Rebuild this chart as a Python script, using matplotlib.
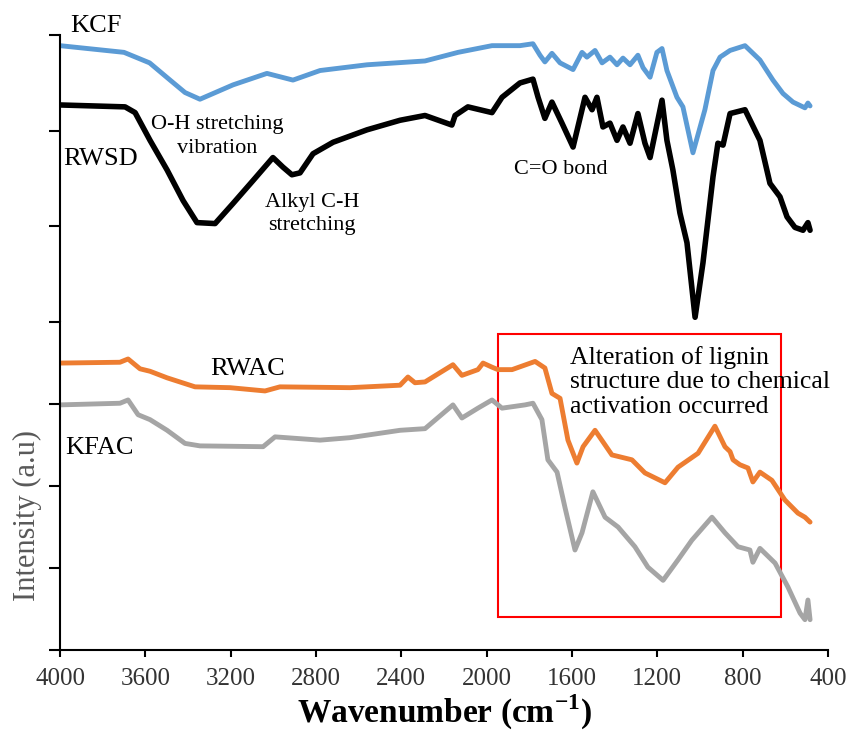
import numpy as np
import matplotlib
matplotlib.use("Agg")
import matplotlib.pyplot as plt
from matplotlib.patches import Rectangle

plt.rcParams['font.family'] = ['Liberation Serif', 'DejaVu Serif']
plt.rcParams['mathtext.fontset'] = 'custom'
plt.rcParams['mathtext.rm'] = 'Liberation Serif'
plt.rcParams['mathtext.bf'] = 'Liberation Serif:bold'

# ---- data ----
# upper panel: raw materials
kcf_wn = [4000, 3700, 3580, 3484, 3414, 3344, 3189, 3030, 2908, 2781, 2561, 2289, 2134,
          1975, 1844, 1783, 1750, 1727, 1694, 1656, 1595, 1553, 1530, 1492, 1459, 1422,
          1389, 1361, 1328, 1291, 1267, 1234, 1202, 1178, 1155, 1108, 1080, 1033, 977,
          939, 906, 859, 789, 719, 658, 611, 564, 508, 494, 484]
kcf_y = [2.89, 2.82, 2.71, 2.53, 2.40, 2.33, 2.48, 2.60, 2.53, 2.63, 2.69, 2.73, 2.82,
         2.89, 2.89, 2.91, 2.79, 2.72, 2.81, 2.71, 2.64, 2.82, 2.77, 2.84, 2.71, 2.77,
         2.69, 2.76, 2.69, 2.79, 2.66, 2.56, 2.82, 2.86, 2.63, 2.35, 2.25, 1.77, 2.22,
         2.63, 2.77, 2.84, 2.89, 2.74, 2.53, 2.39, 2.30, 2.24, 2.29, 2.26]

rwsd_wn = [4000, 3695, 3648, 3578, 3498, 3423, 3358, 3273, 3189, 3095, 3002, 2955, 2913,
           2875, 2814, 2720, 2561, 2406, 2289, 2163, 2148, 2088, 1975, 1928, 1844, 1783,
           1759, 1727, 1694, 1647, 1595, 1539, 1506, 1483, 1455, 1422, 1389, 1361, 1328,
           1291, 1258, 1234, 1178, 1155, 1127, 1094, 1061, 1023, 986, 939, 916, 892, 859,
           789, 719, 672, 625, 592, 555, 517, 494, 484]
rwsd_y = [2.27, 2.25, 2.19, 1.90, 1.59, 1.27, 1.04, 1.03, 1.24, 1.48, 1.72, 1.62, 1.54,
          1.56, 1.76, 1.88, 2.01, 2.11, 2.16, 2.06, 2.16, 2.25, 2.19, 2.35, 2.50, 2.54,
          2.35, 2.13, 2.30, 2.08, 1.83, 2.35, 2.22, 2.35, 2.04, 2.08, 1.90, 2.04, 1.87,
          2.18, 1.87, 1.72, 2.32, 1.90, 1.59, 1.14, 0.83, 0.05, 0.62, 1.52, 1.87, 1.85,
          2.18, 2.22, 1.90, 1.45, 1.31, 1.10, 0.99, 0.96, 1.04, 0.96]

# lower panel: activated carbons
rwac_wn = [4000, 3719, 3681, 3625, 3578, 3498, 3367, 3203, 3039, 2969, 2641, 2406, 2369,
           2336, 2289, 2158, 2116, 2041, 2017, 1975, 1947, 1881, 1773, 1727, 1694, 1656,
           1619, 1577, 1548, 1492, 1413, 1319, 1258, 1164, 1103, 1009, 930, 883, 859, 845,
           813, 775, 752, 719, 663, 602, 541, 508, 484]
rwac_y = [3.50, 3.51, 3.55, 3.43, 3.40, 3.32, 3.21, 3.20, 3.16, 3.21, 3.20, 3.23, 3.33,
          3.26, 3.27, 3.48, 3.35, 3.42, 3.50, 3.45, 3.42, 3.42, 3.52, 3.44, 3.13, 3.07,
          2.56, 2.28, 2.48, 2.68, 2.38, 2.32, 2.16, 2.04, 2.23, 2.40, 2.73, 2.48, 2.42,
          2.32, 2.26, 2.22, 2.05, 2.17, 2.07, 1.83, 1.67, 1.62, 1.56]

kfac_wn = [4000, 3719, 3681, 3634, 3578, 3498, 3414, 3344, 3048, 2992, 2781, 2641, 2406,
           2289, 2158, 2116, 2041, 1975, 1928, 1820, 1783, 1741, 1713, 1670, 1633, 1586,
           1553, 1502, 1445, 1384, 1305, 1244, 1173, 1103, 1038, 944, 883, 822, 766, 752,
           719, 648, 588, 531, 508, 494, 484]
kfac_y = [2.99, 3.01, 3.05, 2.87, 2.81, 2.68, 2.52, 2.49, 2.48, 2.60, 2.56, 2.59, 2.68,
          2.70, 2.99, 2.83, 2.95, 3.05, 2.95, 2.99, 3.01, 2.81, 2.32, 2.17, 1.74, 1.22,
          1.43, 1.93, 1.62, 1.50, 1.26, 1.01, 0.85, 1.10, 1.34, 1.62, 1.43, 1.26, 1.22,
          1.07, 1.24, 1.06, 0.77, 0.45, 0.37, 0.61, 0.37]

xticks = [4000, 3600, 3200, 2800, 2400, 2000, 1600, 1200, 800, 400]

fig = plt.figure(figsize=(8.5, 7.32), dpi=100)
ax1 = fig.add_axes([0.0706, 0.560, 0.9035, 0.392])
ax2 = fig.add_axes([0.0706, 0.112, 0.9035, 0.448], sharex=ax1)

kw = dict(solid_joinstyle='round', solid_capstyle='round')
ax1.plot(kcf_wn, kcf_y, color='#5B9BD5', lw=3.5, **kw)
ax1.plot(rwsd_wn, rwsd_y, color='black', lw=4, **kw)
ax2.plot(rwac_wn, rwac_y, color='#ED7D31', lw=3.5, **kw)
ax2.plot(kfac_wn, kfac_y, color='#A5A5A5', lw=3.5, **kw)

ax1.set_xlim(4000, 400)
ax1.set_ylim(0, 3)
ax2.set_ylim(0, 4)

for ax in (ax1, ax2):
    ax.spines['top'].set_visible(False)
    ax.spines['right'].set_visible(False)
    ax.spines['left'].set_linewidth(1.5)
    ax.spines['bottom'].set_linewidth(1.5)
    ax.tick_params(axis='y', direction='out', length=8, width=1.5, labelleft=False)
ax1.spines['bottom'].set_visible(False)
ax1.tick_params(axis='x', bottom=False, labelbottom=False)
ax1.set_yticks([1, 2, 3])
ax2.set_yticks([0, 1, 2, 3, 4])

ax2.set_xticks(xticks)
ax2.tick_params(axis='x', direction='out', length=5, width=1.5, labelsize=18,
                labelcolor='#333333', pad=8)

ax2.set_xlabel(r'Wavenumber (cm$^{\mathbf{-1}}$)', fontsize=24, fontweight='bold', labelpad=2)
fig.text(0.032, 0.296, 'Intensity (a.u)', rotation=90, fontsize=22, color='#595959',
         ha='center', va='center')

# sample labels and band notes
ax1.text(3953, 3.10, 'KCF', fontsize=19, ha='left', va='center', clip_on=False)
ax1.text(3986, 1.71, 'RWSD', fontsize=19, ha='left', va='center')
ax1.text(3264, 1.94, 'O-H stretching\nvibration', fontsize=16, ha='center', va='center',
         linespacing=1.3)
ax1.text(2819, 1.13, 'Alkyl C-H\nstretching', fontsize=16, ha='center', va='center',
         linespacing=1.3)
ax1.text(1652, 1.59, 'C=O bond', fontsize=16, ha='center', va='center')

ax2.text(3297, 3.43, 'RWAC', fontsize=19, ha='left', va='center')
ax2.text(3977, 2.46, 'KFAC', fontsize=19, ha='left', va='center')
ax2.text(1609, 3.27, 'Alteration of lignin\nstructure due to chemical\nactivation occurred',
         fontsize=18.5, ha='left', va='center', linespacing=1.15)
ax2.add_patch(Rectangle((1947, 0.40), 620 - 1947, 3.85 - 0.40, fill=False,
                        edgecolor='#FF0000', lw=1.5))

fig.savefig('out.png', dpi=100)
